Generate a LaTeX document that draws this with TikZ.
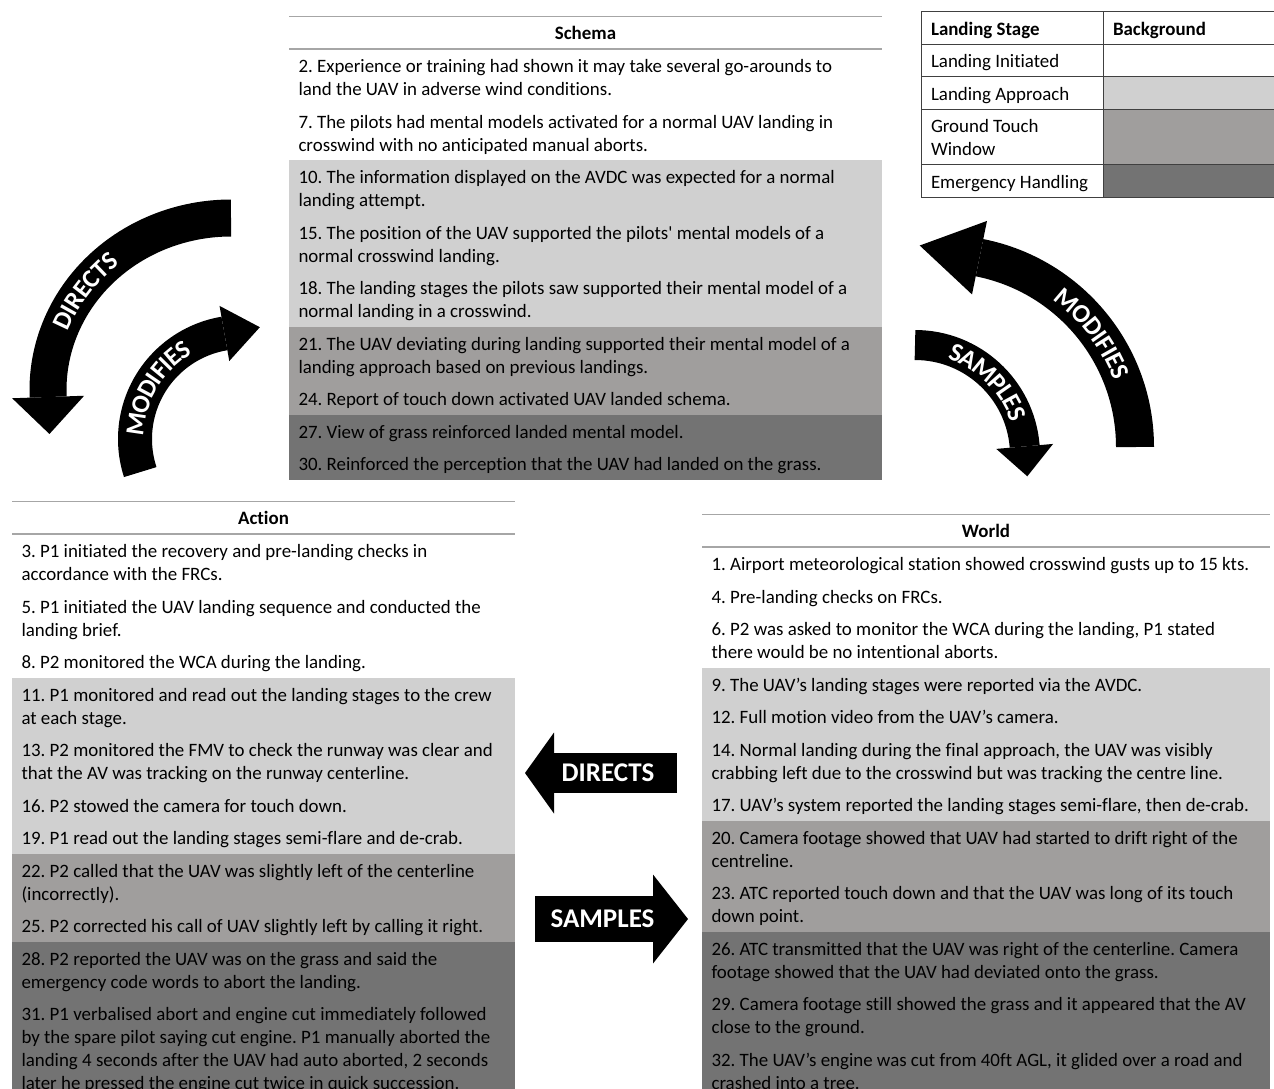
\documentclass[tikz,border=0pt]{standalone}
\usepackage{fontspec}
\setmainfont{Carlito}[Ligatures={TeX,NoCommon}]
\usepackage{tikz}
\usetikzlibrary{positioning, arrows.meta, decorations.text}

\definecolor{approachgray}{HTML}{D0D0D0}
\definecolor{touchgray}{HTML}{A09E9D}
\definecolor{emergencygray}{HTML}{737373}

\newcommand{\bodyfont}{\fontsize{18.9}{23}\selectfont}
\newcommand{\rowstrut}{\rule[-4pt]{0pt}{23pt}}
\newcommand{\plainspaces}{\spaceskip=0pt\xspaceskip=0pt\frenchspacing\hyphenpenalty=10000\exhyphenpenalty=10000}
\newcommand{\arrowfont}{\fontsize{27}{27}\selectfont\bfseries}
\newcommand{\curvefont}{\fontsize{26}{26}\selectfont\bfseries\color{white}}

\begin{document}
\begin{tikzpicture}[
		x=1pt, y=1pt,
		blocktitle/.style={minimum height=32.5pt, inner sep=0pt, outer sep=0pt, font=\bodyfont\bfseries},
		titlerule/.style={draw=black!35, line width=1.3pt},
		row/.style={text width=#1, inner xsep=9.5pt, inner ysep=4.75pt, outer sep=0pt, align=left, font=\bodyfont,
			execute at begin node={\plainspaces\rowstrut}, execute at end node=\rowstrut},
		schemarow/.style={row=574pt},
		actionrow/.style={row=484pt},
		worldrow/.style={row=549pt},
		initiated/.style={fill=white},
		approach/.style={fill=approachgray},
		touchdown/.style={fill=touchgray},
		emergency/.style={fill=emergencygray},
		legendcell/.style={draw=black!75, line width=1pt, text width=#1, inner xsep=10pt, inner ysep=0pt, outer sep=0pt,
			align=left, font=\bodyfont, execute at begin node={\plainspaces\rowstrut}, execute at end node=\rowstrut},
		bigarrow/.style={draw=black, line width=#1},
		arrowtext/.style={text=white, font=\arrowfont, inner sep=0pt},
		curvetext/.style={decorate, decoration={text along path, text align=center, raise=-8.5pt, text={|\curvefont|#1}}}
	]

	\useasboundingbox (0,0) rectangle (1274,-1088);
	\clip (0,0) rectangle (1274,-1088);

	% Schema
	\node[blocktitle, minimum width=593pt] (schema) at (585.5,-32.75) {Schema};
	\node[schemarow, initiated, below=0pt of schema] (s2) {2. Experience or training had shown it may take several go-arounds to\\land the UAV in adverse wind conditions.};
	\node[schemarow, initiated, below=0pt of s2] (s7) {7. The pilots had mental models activated for a normal UAV landing in\\crosswind with no anticipated manual aborts.};
	\node[schemarow, approach, below=0pt of s7] (s10) {10. The information displayed on the AVDC was expected for a normal\\landing attempt.};
	\node[schemarow, approach, below=0pt of s10] (s15) {15. The position of the UAV supported the pilots\textquotesingle{} mental models of a\\normal crosswind landing.};
	\node[schemarow, approach, below=0pt of s15] (s18) {18. The landing stages the pilots saw supported their mental model of a\\normal landing in a crosswind.};
	\node[schemarow, touchdown, below=0pt of s18] (s21) {21. The UAV deviating during landing supported their mental model of a\\landing approach based on previous landings.};
	\node[schemarow, touchdown, below=0pt of s21] (s24) {24. Report of touch down activated UAV landed schema.};
	\node[schemarow, emergency, below=0pt of s24] (s27) {27. View of grass reinforced landed mental model.};
	\node[schemarow, emergency, below=0pt of s27] (s30) {30. Reinforced the perception that the UAV had landed on the grass.};
	\draw[titlerule] (schema.north west) -- (schema.north east);
	\draw[titlerule] (schema.south west) -- (schema.south east);

	% Action
	\node[blocktitle, minimum width=503pt] (action) at (263.5,-517.75) {Action};
	\node[actionrow, initiated, below=0pt of action] (a3) {3. P1 initiated the recovery and pre-landing checks in\\accordance with the FRCs.};
	\node[actionrow, initiated, below=0pt of a3] (a5) {5. P1 initiated the UAV landing sequence and conducted the\\landing brief.};
	\node[actionrow, initiated, below=0pt of a5] (a8) {8. P2 monitored the WCA during the landing.};
	\node[actionrow, approach, below=0pt of a8] (a11) {11. P1 monitored and read out the landing stages to the crew\\at each stage.};
	\node[actionrow, approach, below=0pt of a11] (a13) {13. P2 monitored the FMV to check the runway was clear and\\that the AV was tracking on the runway centerline.};
	\node[actionrow, approach, below=0pt of a13] (a16) {16. P2 stowed the camera for touch down.};
	\node[actionrow, approach, below=0pt of a16] (a19) {19. P1 read out the landing stages semi-flare and de-crab.};
	\node[actionrow, touchdown, below=0pt of a19] (a22) {22. P2 called that the UAV was slightly left of the centerline\\(incorrectly).};
	\node[actionrow, touchdown, below=0pt of a22] (a25) {25. P2 corrected his call of UAV slightly left by calling it right.};
	\node[actionrow, emergency, below=0pt of a25] (a28) {28. P2 reported the UAV was on the grass and said the\\emergency code words to abort the landing.};
	\node[actionrow, emergency, below=0pt of a28] (a31) {31. P1 verbalised abort and engine cut immediately followed\\by the spare pilot saying cut engine. P1 manually aborted the\\landing 4 seconds after the UAV had auto aborted, 2 seconds\\later he pressed the engine cut twice in quick succession.};
	\draw[titlerule] (action.north west) -- (action.north east);
	\draw[titlerule] (action.south west) -- (action.south east);

	% World
	\node[blocktitle, minimum width=568pt] (world) at (986,-530.75) {World};
	\node[worldrow, initiated, below=0pt of world] (w1) {1. Airport meteorological station showed crosswind gusts up to 15 kts.};
	\node[worldrow, initiated, below=0pt of w1] (w4) {4. Pre-landing checks on FRCs.};
	\node[worldrow, initiated, below=0pt of w4] (w6) {6. P2 was asked to monitor the WCA during the landing, P1 stated\\there would be no intentional aborts.};
	\node[worldrow, approach, below=0pt of w6] (w9) {9. The UAV’s landing stages were reported via the AVDC.};
	\node[worldrow, approach, below=0pt of w9] (w12) {12. Full motion video from the UAV’s camera.};
	\node[worldrow, approach, below=0pt of w12] (w14) {14. Normal landing during the final approach, the UAV was visibly\\crabbing left due to the crosswind but was tracking the centre line.};
	\node[worldrow, approach, below=0pt of w14] (w17) {17. UAV’s system reported the landing stages semi-flare, then de-crab.};
	\node[worldrow, touchdown, below=0pt of w17] (w20) {20. Camera footage showed that UAV had started to drift right of the\\centreline.};
	\node[worldrow, touchdown, below=0pt of w20] (w23) {23. ATC reported touch down and that the UAV was long of its touch\\down point.};
	\node[worldrow, emergency, below=0pt of w23] (w26) {26. ATC transmitted that the UAV was right of the centerline. Camera\\footage showed that the UAV had deviated onto the grass.};
	\node[worldrow, emergency, below=0pt of w26] (w29) {29. Camera footage still showed the grass and it appeared that the AV\\close to the ground.};
	\node[worldrow, emergency, below=0pt of w29] (w32) {32. The UAV’s engine was cut from 40ft AGL, it glided over a road and\\crashed into a tree.};
	\draw[titlerule] (world.north west) -- (world.north east);
	\draw[titlerule] (world.south west) -- (world.south east);

	% Legend
	\node[legendcell=162pt, minimum height=32.5pt, font=\bodyfont\bfseries, anchor=north west] (stagehead) at (921,-11.7) {Landing Stage};
	\node[legendcell=167pt, minimum height=32.5pt, font=\bodyfont\bfseries, right=0pt of stagehead] (bghead) {Background};
	\node[legendcell=162pt, minimum height=32.5pt, below=0pt of stagehead] (initiated) {Landing Initiated};
	\node[legendcell=167pt, minimum height=32.5pt, initiated, right=0pt of initiated] (initiatedbg) {};
	\node[legendcell=162pt, minimum height=32.5pt, below=0pt of initiated] (approach) {Landing Approach};
	\node[legendcell=167pt, minimum height=32.5pt, approach, right=0pt of approach] (approachbg) {};
	\node[legendcell=162pt, minimum height=55.5pt, below=0pt of approach] (touch) {Ground Touch\\Window};
	\node[legendcell=167pt, minimum height=55.5pt, touchdown, right=0pt of touch] (touchbg) {};
	\node[legendcell=162pt, minimum height=32.5pt, below=0pt of touch] (emerg) {Emergency Handling};
	\node[legendcell=167pt, minimum height=32.5pt, emergency, right=0pt of emerg] (emergbg) {};

	% Curved arrows round the schema
	\coordinate (dirC) at (231,-390);
	\draw[bigarrow=37pt, -{Triangle[length=37pt, width=72pt, line width=0pt]}]
		([shift={(0,172)}]dirC) arc[start angle=90, end angle=182, x radius=183, y radius=172] -- ++(272:38);
	\path[curvetext=DIRECTS] ([shift={(190:183 and 172)}]dirC) arc[start angle=190, end angle=100, x radius=183, y radius=172];

	\coordinate (modLC) at (242,-439);
	\draw[bigarrow=34pt, -{Triangle[length=36pt, width=56pt, line width=0pt]}]
		([shift={(198:107)}]modLC) arc[start angle=198, end angle=100, radius=107] -- ++(10:37);
	\path[curvetext=MODIFIES] ([shift={(198:107)}]modLC) arc[start angle=198, end angle=100, radius=107];

	\coordinate (modRC) at (942,-447);
	\draw[bigarrow=38pt, -{Triangle[length=61pt, width=75pt, line width=0pt]}]
		([shift={(0:193)}]modRC) arc[start angle=0, end angle=78.5, radius=193] -- ++(168.5:62);
	\path[curvetext=MODIFIES] ([shift={(67:193)}]modRC) arc[start angle=67, end angle=7, radius=193];

	\coordinate (smpC) at (915,-455);
	\draw[bigarrow=30pt, -{Triangle[length=30pt, width=57pt, line width=0pt]}]
		([shift={(90:110)}]smpC) arc[start angle=90, end angle=5, radius=110] -- ++(-85:31);
	\path[curvetext=SAMPLES] ([shift={(90:110)}]smpC) arc[start angle=90, end angle=0, radius=110];

	% Straight arrows between action and world
	\coordinate (dirtail) at (677,-773);
	\coordinate (dirtip) at (525,-773);
	\draw[bigarrow=40pt, -{Triangle[length=29pt, width=81pt, line width=0pt]}] (dirtail) -- (dirtip);
	\node[arrowtext] (dirlabel) at (608,-773) {DIRECTS};

	\coordinate (smptail) at (535,-919);
	\coordinate (smptip) at (688,-919);
	\draw[bigarrow=46pt, -{Triangle[length=35pt, width=89pt, line width=0pt]}] (smptail) -- (smptip);
	\node[arrowtext] (smplabel) at (602.5,-919) {SAMPLES};

\end{tikzpicture}
\end{document}
